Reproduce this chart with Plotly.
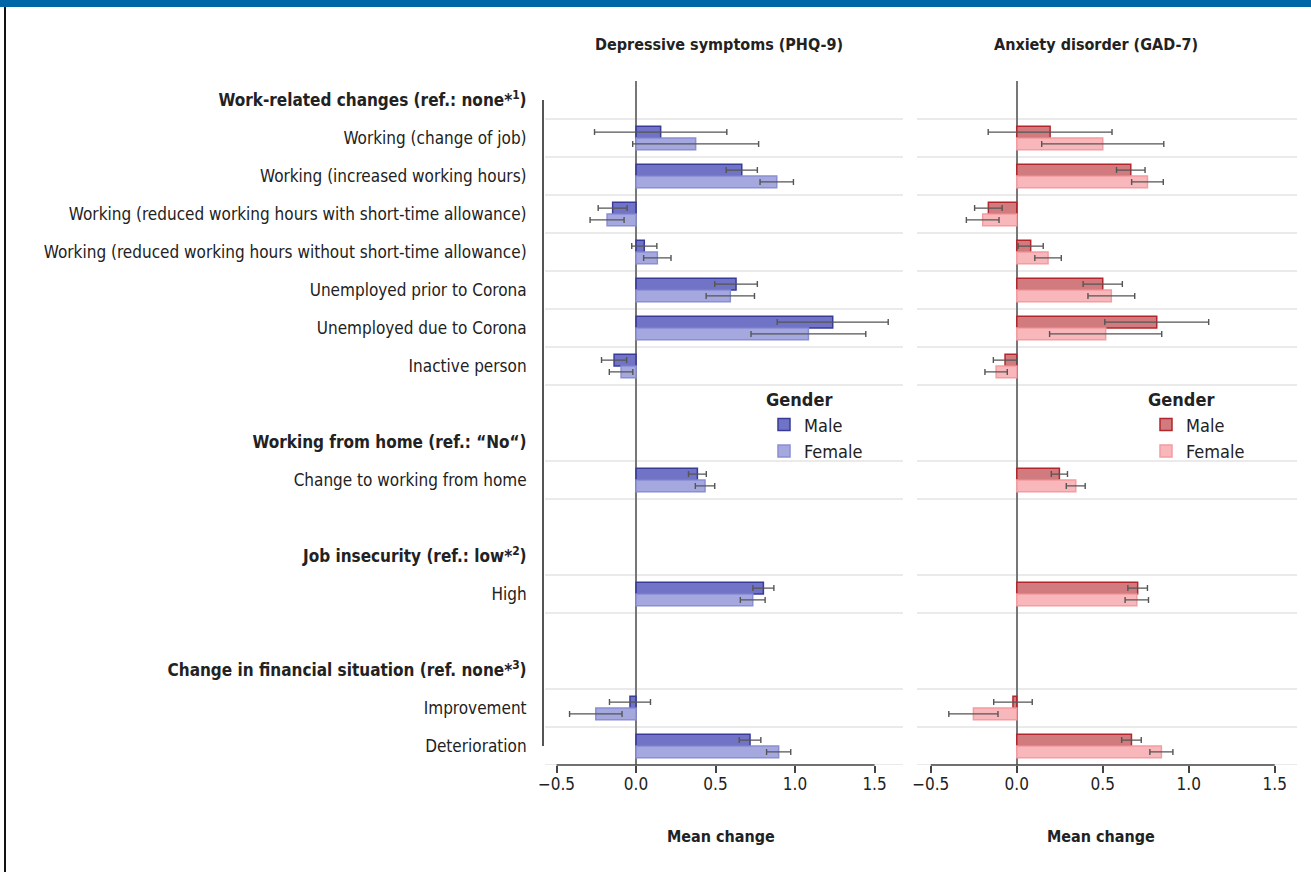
import plotly.graph_objects as go

# ---------------- data ----------------
row_labels = [
    "<b>Work-related changes (ref.: none*<sup>1</sup>)</b>",
    "Working (change of job)",
    "Working (increased working hours)",
    "Working (reduced working hours with short-time allowance)",
    "Working (reduced working hours without short-time allowance)",
    "Unemployed prior to Corona",
    "Unemployed due to Corona",
    "Inactive person",
    "gap1",
    "<b>Working from home (ref.: “No“)</b>",
    "Change to working from home",
    "gap2",
    "<b>Job insecurity (ref.: low*<sup>2</sup>)</b>",
    "High",
    "gap3",
    "<b>Change in financial situation (ref. none*<sup>3</sup>)</b>",
    "Improvement",
    "Deterioration",
]

items = [
    "Working (change of job)",
    "Working (increased working hours)",
    "Working (reduced working hours with short-time allowance)",
    "Working (reduced working hours without short-time allowance)",
    "Unemployed prior to Corona",
    "Unemployed due to Corona",
    "Inactive person",
    "Change to working from home",
    "High",
    "Improvement",
    "Deterioration",
]

# Depressive symptoms (PHQ-9)
phq_male = [0.155, 0.665, -0.147, 0.052, 0.629, 1.237, -0.138, 0.386, 0.801, -0.038, 0.717]
phq_male_ci = [0.416, 0.098, 0.091, 0.079, 0.134, 0.349, 0.079, 0.056, 0.066, 0.129, 0.068]
phq_female = [0.375, 0.885, -0.182, 0.134, 0.593, 1.084, -0.094, 0.434, 0.734, -0.253, 0.897]
phq_female_ci = [0.396, 0.105, 0.107, 0.086, 0.152, 0.361, 0.074, 0.061, 0.078, 0.165, 0.076]

# Anxiety disorder (GAD-7)
gad_male = [0.194, 0.663, -0.165, 0.081, 0.500, 0.814, -0.068, 0.248, 0.703, -0.022, 0.667]
gad_male_ci = [0.360, 0.083, 0.080, 0.073, 0.114, 0.302, 0.068, 0.047, 0.057, 0.112, 0.057]
gad_female = [0.500, 0.760, -0.198, 0.182, 0.550, 0.517, -0.120, 0.343, 0.698, -0.252, 0.841]
gad_female_ci = [0.355, 0.092, 0.095, 0.077, 0.136, 0.326, 0.065, 0.055, 0.068, 0.143, 0.067]

tick_vals = [-0.5, 0.0, 0.5, 1.0, 1.5]
tick_text = ["−0.5", "0.0", "0.5", "1.0", "1.5"]

panel_titles = ["Depressive symptoms (PHQ-9)", "Anxiety disorder (GAD-7)"]
x_title = "Mean change"
legend_title = "Gender"
genders = ["Male", "Female"]

# ---------------- styling ----------------
FONT = "Liberation Sans Narrow, Arial Narrow, DejaVu Sans Condensed, sans-serif"
W, H = 1311, 872
MT, MB = 81, 107
PH = H - MT - MB  # plot-area height


def py(pix):
    """pixel y (from top) -> paper y"""
    return (H - MB - pix) / PH


def px(pix):
    return pix / W


left_dom = [px(543), px(903)]
right_dom = [px(917), px(1300)]
left_range = [-0.585, 1.679]
right_range = [-0.58, 1.647]

blue_m = dict(fill="rgba(92,96,190,0.88)", line="#383c98")
blue_f = dict(fill="rgba(160,163,220,0.95)", line="#8a8ed4")
red_m = dict(fill="rgba(205,112,116,0.92)", line="#b0282e")
red_f = dict(fill="rgba(248,180,183,0.95)", line="#f39ca1")

fig = go.Figure()


def add_bars(vals, ci, name, style, xaxis, legend):
    fig.add_trace(go.Bar(
        x=vals, y=items, orientation="h", name=name,
        marker=dict(color=style["fill"], line=dict(color=style["line"], width=1.5)),
        error_x=dict(type="data", array=ci, symmetric=True,
                     color="#555555", thickness=1.4, width=3),
        xaxis=xaxis, yaxis="y", legend=legend,
    ))


add_bars(phq_male, phq_male_ci, genders[0], blue_m, "x", "legend")
add_bars(phq_female, phq_female_ci, genders[1], blue_f, "x", "legend")
add_bars(gad_male, gad_male_ci, genders[0], red_m, "x2", "legend2")
add_bars(gad_female, gad_female_ci, genders[1], red_f, "x2", "legend2")

axis_common = dict(
    tickvals=tick_vals, ticktext=tick_text, ticks="outside", ticklen=7,
    tickwidth=1.5, tickcolor="#444444", showline=False, showgrid=False,
    zeroline=True, zerolinecolor="#777777", zerolinewidth=1.5,
    tickfont=dict(family=FONT, size=17, color="#222222"),
    ticklabelstandoff=-3,
    anchor="y", fixedrange=True, automargin=False,
)

shown_rows = [r for r in row_labels if not r.startswith("gap")]

fig.update_layout(
    width=W, height=H, autosize=False,
    margin=dict(l=0, r=0, t=MT, b=MB, pad=0, autoexpand=False),
    paper_bgcolor="white", plot_bgcolor="white",
    barmode="group", bargap=0.38, bargroupgap=0.0,
    font=dict(family=FONT, size=17, color="#222222"),
    xaxis=dict(domain=left_dom, range=left_range, **axis_common),
    xaxis2=dict(domain=right_dom, range=right_range, **axis_common),
    yaxis=dict(
        type="category", categoryorder="array", categoryarray=row_labels,
        tickvals=shown_rows, ticktext=shown_rows,
        range=[len(row_labels) - 0.5, -0.5],
        showgrid=False, zeroline=False, showline=False,
        ticks="outside", ticklen=12, tickcolor="rgba(0,0,0,0)",
        tickfont=dict(family=FONT, size=17, color="#222222"),
        anchor="x", fixedrange=True, automargin=False,
    ),
    legend=dict(
        title=dict(text=f"<b>{legend_title}</b>", font=dict(size=18)),
        x=px(764), y=py(383), xanchor="left", yanchor="top",
        bgcolor="rgba(0,0,0,0)", font=dict(size=18), tracegroupgap=0,
        itemwidth=30,
    ),
    legend2=dict(
        title=dict(text=f"<b>{legend_title}</b>", font=dict(size=18)),
        x=px(1146), y=py(383), xanchor="left", yanchor="top",
        bgcolor="rgba(0,0,0,0)", font=dict(size=18), tracegroupgap=0,
        itemwidth=30,
    ),
)

shapes = []
# horizontal separators around every item row
item_idx = [row_labels.index(it) for it in items]
bounds = sorted(set([i - 0.5 for i in item_idx] + [i + 0.5 for i in item_idx]))
for b in bounds:
    for (x0, x1) in [(545, 903), (917, 1297)]:
        shapes.append(dict(type="line", xref="paper", yref="y", x0=px(x0), x1=px(x1),
                           y0=b, y1=b, line=dict(color="#e3e3e3", width=1.5), layer="below"))
# capped y axis line (left panel)
shapes.append(dict(type="line", xref="paper", yref="y", x0=px(543), x1=px(543),
                   y0=0, y1=len(row_labels) - 1, line=dict(color="#555555", width=2)))
# capped x axis lines
for xr in ["x", "x2"]:
    shapes.append(dict(type="line", xref=xr, yref="paper", x0=tick_vals[0], x1=tick_vals[-1],
                       y0=0, y1=0, line=dict(color="#444444", width=1.5)))
# header banner and left frame line
shapes.append(dict(type="rect", xref="paper", yref="paper", x0=0, x1=1, y0=py(7), y1=py(0),
                   fillcolor="#0066a8", line=dict(width=0)))
shapes.append(dict(type="line", xref="paper", yref="paper", x0=px(5), x1=px(5), y0=py(7), y1=py(H),
                   line=dict(color="#111111", width=2)))
fig.update_layout(shapes=shapes)

annotations = []
for title, tcx, mcx in zip(panel_titles, [719, 1096], [721, 1101]):
    annotations.append(dict(text=f"<b>{title}</b>", xref="paper", yref="paper", x=px(tcx), y=py(44),
                            showarrow=False, xanchor="center", yanchor="middle",
                            font=dict(family=FONT, size=16, color="#222222")))
    annotations.append(dict(text=f"<b>{x_title}</b>", xref="paper", yref="paper", x=px(mcx), y=py(836),
                            showarrow=False, xanchor="center", yanchor="middle",
                            font=dict(family=FONT, size=16, color="#222222")))
fig.update_layout(annotations=annotations)

fig.write_html(
    "out.html",
    config={"displayModeBar": False},
    post_script="document.body.style.margin='0';document.body.style.padding='0';"
                "document.documentElement.style.overflow='hidden';",
)
